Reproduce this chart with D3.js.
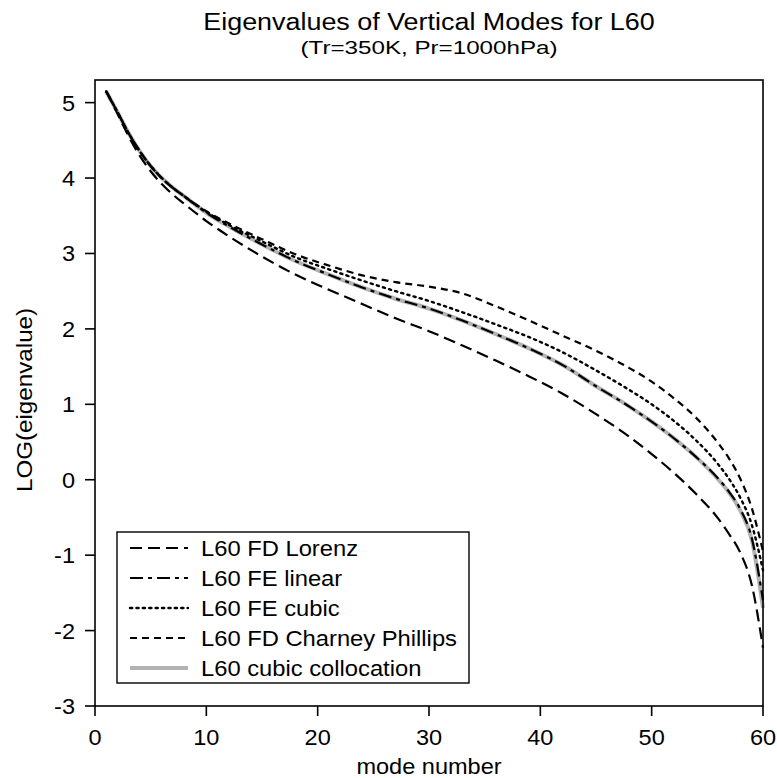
<!DOCTYPE html>
<html>
<head>
<meta charset="utf-8">
<script src="https://cdn.jsdelivr.net/npm/d3@7"></script>
<style>
  html, body { margin: 0; padding: 0; background: #fff; }
  svg { display: block; }
  text { font-family: "Liberation Sans", Arial, Helvetica, sans-serif; fill: #000; }
</style>
</head>
<body>
<svg id="chart" width="777" height="778"></svg>
<script>
// Mode numbers at which each solution is sampled
const modes = [1,2,3,4,5,6,7,8,10,12,15,18,21,24,27,30,33,36,39,42,45,48,50,52,54,56,57,58,59,60];

// log10 of eigenvalue for each discretisation
const fdLorenz   = [5.15,4.86,4.56,4.30,4.09,3.92,3.78,3.66,3.43,3.23,2.96,2.72,2.52,2.33,2.14,1.97,1.78,1.58,1.37,1.14,0.87,0.57,0.34,0.09,-0.19,-0.52,-0.73,-0.98,-1.40,-2.23];
const feLinear   = [5.15,4.88,4.60,4.36,4.16,4.00,3.87,3.76,3.54,3.36,3.12,2.90,2.72,2.55,2.40,2.27,2.11,1.93,1.74,1.52,1.24,0.97,0.77,0.55,0.30,0.01,-0.17,-0.40,-0.78,-1.60];
const feCubic    = [5.15,4.88,4.60,4.36,4.16,4.00,3.87,3.76,3.55,3.38,3.16,2.95,2.79,2.64,2.50,2.37,2.22,2.06,1.89,1.69,1.45,1.19,1.00,0.78,0.52,0.20,0.00,-0.25,-0.60,-1.20];
const fdCharney  = [5.15,4.88,4.60,4.36,4.16,4.00,3.87,3.76,3.56,3.40,3.19,2.99,2.84,2.71,2.62,2.56,2.47,2.30,2.11,1.91,1.71,1.48,1.30,1.08,0.82,0.48,0.27,0.00,-0.38,-0.95];
const cubicColloc= [5.15,4.88,4.60,4.36,4.16,4.00,3.87,3.76,3.54,3.36,3.12,2.90,2.72,2.55,2.40,2.27,2.11,1.93,1.74,1.52,1.24,0.97,0.77,0.55,0.30,0.00,-0.18,-0.42,-0.80,-1.70];

const seriesNames = ["L60 FD Lorenz","L60 FE linear","L60 FE cubic","L60 FD Charney Phillips","L60 cubic collocation"];
const xTicks = [0,10,20,30,40,50,60];
const yTicks = [-3,-2,-1,0,1,2,3,4,5];

const series = [
  {name: seriesNames[0], values: fdLorenz,   color: "#000", width: 2.2, dash: "12,6"},
  {name: seriesNames[1], values: feLinear,   color: "#000", width: 2.2, dash: "13,5,4,5"},
  {name: seriesNames[2], values: feCubic,    color: "#000", width: 2.4, dash: "2.2,4.2"},
  {name: seriesNames[3], values: fdCharney,  color: "#000", width: 2.2, dash: "7,5"},
  {name: seriesNames[4], values: cubicColloc,color: "#b3b3b3", width: 4, dash: null}
];

const svg = d3.select("#chart");
const plotL = 95, plotR = 763, plotT = 80, plotB = 706;

const x = d3.scaleLinear().domain([0, 60]).range([plotL, plotR]);
const y = d3.scaleLinear().domain([-3, 5.3]).range([plotB, plotT]);

// helper: horizontally widened text
function label(g, tx, ty, str, size, sx, anchor, rotate) {
  return g.append("text")
    .attr("transform", `translate(${tx},${ty})` + (rotate ? ` rotate(${rotate})` : "") + ` scale(${sx},1)`)
    .attr("font-size", size)
    .attr("text-anchor", anchor || "start")
    .text(str);
}

// curves: gray collocation underneath, black lines on top
const line = d3.line()
  .x((d, i) => x(modes[i]))
  .y(d => y(d))
  .curve(d3.curveMonotoneX);

const drawOrder = [4, 0, 1, 2, 3];
const curves = svg.append("g");
drawOrder.forEach(k => {
  const s = series[k];
  curves.append("path")
    .datum(s.values)
    .attr("fill", "none")
    .attr("stroke", s.color)
    .attr("stroke-width", s.width)
    .attr("stroke-dasharray", s.dash)
    .attr("stroke-linecap", k === 2 ? "round" : "butt")
    .attr("d", line);
});

// frame
svg.append("rect")
  .attr("x", plotL).attr("y", plotT)
  .attr("width", plotR - plotL).attr("height", plotB - plotT)
  .attr("fill", "none").attr("stroke", "#000").attr("stroke-width", 1.6);

// x axis
const xAxis = svg.append("g");
xTicks.forEach(v => {
  xAxis.append("line")
    .attr("x1", x(v)).attr("x2", x(v))
    .attr("y1", plotB).attr("y2", plotB + 10)
    .attr("stroke", "#000").attr("stroke-width", 1.6);
  label(xAxis, x(v), 745, String(v), 22, 1.07, "middle");
});

// y axis
const yAxis = svg.append("g");
yTicks.forEach(v => {
  yAxis.append("line")
    .attr("x1", plotL - 10).attr("x2", plotL)
    .attr("y1", y(v)).attr("y2", y(v))
    .attr("stroke", "#000").attr("stroke-width", 1.6);
  label(yAxis, 75, y(v) + 8, String(v), 22, 1.07, "end");
});

// axis titles
label(svg, (plotL + plotR) / 2, 774, "mode number", 22, 1.07, "middle");
label(svg, 32, 400, "LOG(eigenvalue)", 22, 1.1, "middle", -90);

// title and subtitle
label(svg, (plotL + plotR) / 2, 30, "Eigenvalues of Vertical Modes for L60", 23, 1.17, "middle");
svg.append("text")
  .attr("x", (plotL + plotR) / 2).attr("y", 54)
  .attr("font-size", 17.5)
  .attr("text-anchor", "middle")
  .attr("textLength", 257)
  .attr("lengthAdjust", "spacingAndGlyphs")
  .text("(Tr=350K, Pr=1000hPa)");

// legend
const lg = svg.append("g");
lg.append("rect")
  .attr("x", 117).attr("y", 532)
  .attr("width", 352).attr("height", 151)
  .attr("fill", "#fff").attr("stroke", "#000").attr("stroke-width", 1.4);
series.forEach((s, i) => {
  const cy = 548 + i * 30;
  lg.append("line")
    .attr("x1", 130).attr("x2", 188)
    .attr("y1", cy).attr("y2", cy)
    .attr("stroke", s.color)
    .attr("stroke-width", s.width)
    .attr("stroke-dasharray", s.dash)
    .attr("stroke-linecap", i === 2 ? "round" : "butt");
  label(lg, 201, cy + 8, s.name, 22, 1.08, "start");
});
</script>
</body>
</html>
